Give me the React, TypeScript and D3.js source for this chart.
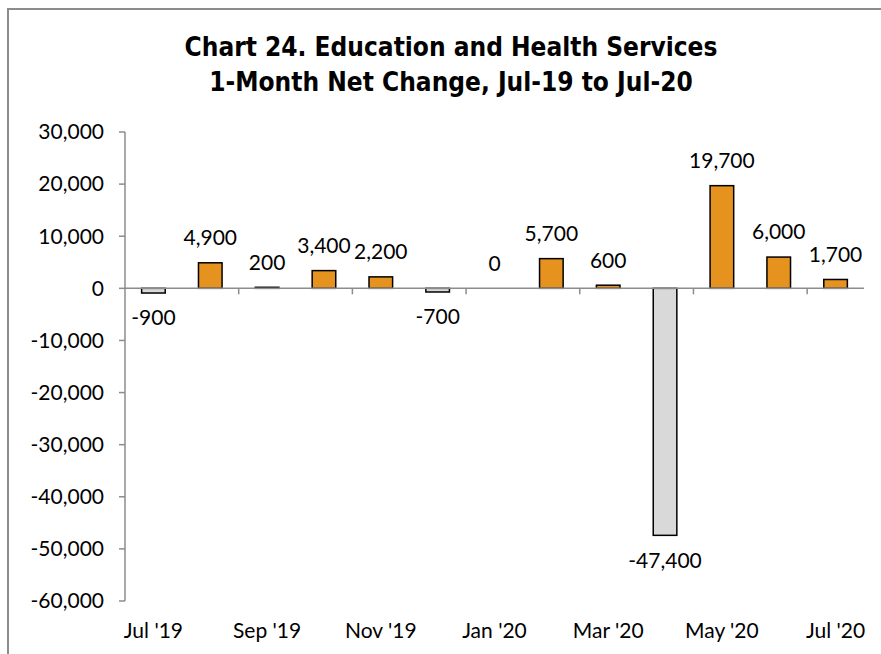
import React from "react";
import * as d3 from "d3";

const months = ["Jul '19", "Aug '19", "Sep '19", "Oct '19", "Nov '19", "Dec '19", "Jan '20", "Feb '20", "Mar '20", "Apr '20", "May '20", "Jun '20", "Jul '20"];
const values = [-900, 4900, 200, 3400, 2200, -700, 0, 5700, 600, -47400, 19700, 6000, 1700];
const yTicks = [30000, 20000, 10000, 0, -10000, -20000, -30000, -40000, -50000, -60000];
const titleLines = ["Chart 24. Education and Health Services", "1-Month Net Change, Jul-19 to Jul-20"];

const W = 881, H = 654;
const left = 125, right = 864, top = 132, bottom = 601;
const labelFont = "Lato, 'Open Sans', sans-serif";
const titleFont = "'Liberation Sans Narrow', 'DejaVu Sans Condensed', sans-serif";

export default function App() {
  const x = d3.scaleBand<string>().domain(months).range([left, right]).paddingInner(0.585).paddingOuter(0.2925);
  const xb = d3.scaleBand<string>().domain(months).range([left, right]);
  const y = d3.scaleLinear().domain([-60000, 30000]).range([bottom, top]);
  const f = d3.format(",");
  const fmt = (v: number) => f(v).replace("\u2212", "-");
  const y0 = y(0);
  return (
    <svg width={W} height={H} style={{ position: "absolute", left: 0, top: 0, background: "#fff" }}>
      <rect x={8} y={9} width={W} height={H} fill="#fff" stroke="#8c8c8c" strokeWidth={2} />
      {titleLines.map((t, i) => (
        <text key={i} x={451} y={56 + i * 35} textAnchor="middle" fontFamily={titleFont} fontWeight="bold" fontSize={26} fill="#000">{t}</text>
      ))}
      {/* y axis */}
      <line x1={left} x2={left} y1={top} y2={bottom} stroke="#8c8c8c" strokeWidth={1.5} />
      {yTicks.map((t) => (
        <g key={t}>
          <line x1={left - 6} x2={left} y1={y(t)} y2={y(t)} stroke="#8c8c8c" strokeWidth={1.5} />
          <text x={104} y={y(t)} dy="0.35em" textAnchor="end" fontFamily={labelFont} fontSize={21} fill="#000">{fmt(t)}</text>
        </g>
      ))}
      {/* bars */}
      {months.map((m, i) => {
        const v = values[i];
        if (v === 0) return null;
        const yTop = Math.min(y(v), y0), h = Math.abs(y(v) - y0);
        return <rect key={m} x={x(m)} y={yTop} width={x.bandwidth()} height={h} fill={v > 0 ? "#E6921E" : "#D9D9D9"} stroke="#000" strokeWidth={1.5} />;
      })}
      {/* zero line */}
      <line x1={left} x2={right} y1={y0} y2={y0} stroke="#8c8c8c" strokeWidth={1.5} />
      {months.map((m, i) => (i % 2 === 0 && i > 0 ? (
        <line key={"t" + m} x1={xb(m)} x2={xb(m)} y1={y0} y2={y0 + 6} stroke="#8c8c8c" strokeWidth={1.5} />
      ) : null))}
      {/* data labels */}
      {months.map((m, i) => {
        const v = values[i];
        const cy = v < 0 ? y(v) + 25 : y(v) - 25;
        return <text key={"l" + m} x={x(m)! + x.bandwidth() / 2} y={cy} dy="0.35em" textAnchor="middle" fontFamily={labelFont} fontSize={21} fill="#000">{fmt(v)}</text>;
      })}
      {/* x labels */}
      {months.map((m, i) => (i % 2 === 0 ? (
        <text key={"x" + m} x={x(m)! + x.bandwidth() / 2} y={631} dy="0.35em" textAnchor="middle" fontFamily={labelFont} fontSize={21} fill="#000">{m}</text>
      ) : null))}
    </svg>
  );
}
